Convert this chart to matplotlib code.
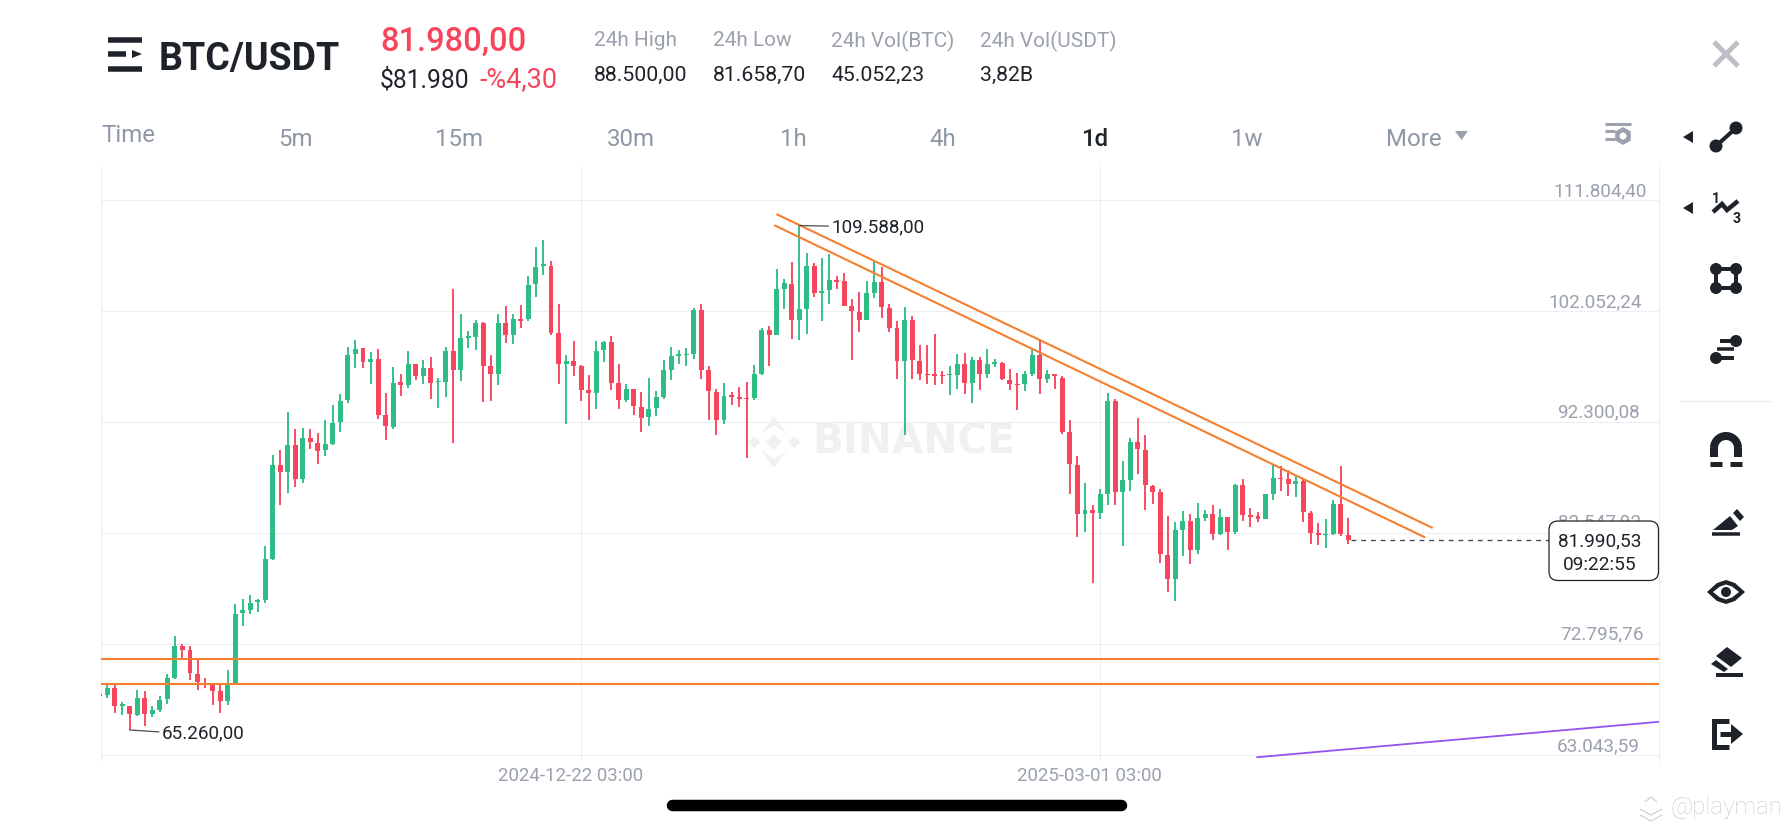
import numpy as np
import matplotlib
matplotlib.use("Agg")
import matplotlib.pyplot as plt
from matplotlib import patches, transforms
from matplotlib.lines import Line2D

plt.rcParams['font.family'] = ['Roboto', 'DejaVu Sans']

opens = [68.40,68.31,68.95,67.40,67.37,66.55,68.10,66.67,67.05,67.96,69.86,72.64,72.26,70.21,69.39,69.27,68.69,67.81,69.33,75.57,75.78,76.51,76.66,80.32,
88.57,87.93,90.27,87.28,90.95,90.51,89.83,90.42,92.29,94.23,98.27,98.83,97.60,97.83,92.91,91.88,95.81,95.60,97.39,96.34,97.10,95.81,95.81,98.53,96.92,99.71,99.80,101.06,97.22,96.57,101.06,99.94,101.35,101.38,104.42,106.07,106.04,100.12,97.42,97.72,97.25,95.11,94.87,
98.61,99.35,95.71,94.22,95.19,93.63,92.72,93.52,94.51,96.91,98.15,98.17,98.29,102.19,96.86,94.98,92.52,94.69,94.51,94.45,94.45,96.50,100.43,99.93,104.01,104.47,101.25,102.22,106.06,103.68,103.89,104.83,104.68,102.54,101.98,101.28,103.68,104.62,102.36,100.58,97.65,101.25,97.68,96.56,96.50,96.45,96.42,96.42,97.38,95.71,97.79,96.56,97.44,97.50,96.04,95.68,95.63,96.56,98.23,96.09,96.50,96.18,
91.44,88.57,84.21,84.62,84.32,86.02,94.17,86.17,87.20,90.54,89.83,86.73,86.20,80.66,78.55,82.86,83.59,81.07,83.91,84.27,82.45,83.94,82.65,86.76,84.18,84.03,83.80,86.02,87.40,87.28,86.87,87.17,84.35,82.54,82.36,82.45,85.09,82.42]
highs = [68.46,69.27,69.42,67.75,67.37,68.75,68.66,67.34,68.22,70.15,73.52,72.85,72.61,71.44,69.80,69.39,69.39,70.51,76.31,76.75,77.13,76.80,81.40,89.45,
89.89,93.20,91.68,91.80,91.71,91.39,92.53,93.85,94.76,98.92,99.50,98.83,98.48,98.77,94.90,97.16,96.51,98.56,97.39,97.74,98.07,96.22,98.92,104.04,101.82,100.35,101.26,101.14,98.18,101.82,102.49,101.82,102.58,105.19,107.74,108.29,106.45,102.73,98.18,99.47,97.36,96.48,99.41,
99.46,99.87,97.44,95.63,95.25,94.95,96.18,95.07,97.76,98.91,98.67,98.79,102.36,102.66,97.21,95.25,95.74,94.95,95.39,95.83,97.30,100.61,100.78,105.79,104.91,106.35,109.588,107.14,106.32,106.76,107.05,105.18,105.44,103.16,103.74,104.68,106.38,105.94,102.66,101.19,102.42,101.60,99.05,99.05,100.08,96.80,97.24,98.26,98.41,98.03,98.03,98.76,97.88,97.59,96.94,96.62,96.80,98.61,99.49,96.91,96.56,96.36,
92.47,89.34,86.99,85.00,86.46,94.90,94.34,88.87,90.92,92.70,91.21,86.81,86.40,84.03,83.53,84.47,84.26,85.23,84.62,85.06,84.67,83.94,86.90,87.34,84.79,84.41,86.02,88.51,88.43,88.13,87.58,87.34,84.50,83.47,83.83,85.50,88.43,83.88]
lows = [68.16,68.07,66.78,66.55,65.26,66.46,65.58,66.40,66.87,67.58,69.71,71.44,69.63,68.81,68.95,67.43,66.78,67.43,69.27,74.37,75.49,75.63,76.42,80.17,
85.00,86.08,86.61,86.99,89.98,88.66,89.31,90.33,91.44,94.00,97.07,97.07,95.69,92.56,90.71,91.74,94.58,95.31,96.04,95.63,94.32,93.55,94.52,90.48,95.93,98.83,98.62,94.11,94.20,95.60,99.27,99.15,100.56,101.20,103.31,105.27,99.97,95.66,92.18,96.34,94.20,92.47,93.50,
97.59,95.16,93.43,94.07,92.96,91.46,91.96,92.84,94.31,96.04,97.44,97.24,97.85,96.12,92.46,91.14,92.17,93.78,93.63,89.18,94.28,96.45,97.27,99.93,102.22,99.61,99.49,100.08,103.30,101.19,102.72,104.03,102.48,97.73,100.20,101.28,103.21,101.49,100.23,96.07,91.14,96.07,96.04,95.63,95.54,95.63,94.66,95.19,94.80,94.01,95.16,96.18,97.15,95.98,95.10,93.34,95.01,96.36,94.80,95.74,95.19,91.29,
86.02,82.21,82.65,78.20,83.77,85.00,85.06,81.45,86.26,87.78,84.62,85.14,79.96,77.38,76.56,80.54,79.87,80.75,83.59,81.92,82.42,81.04,82.48,83.62,83.09,83.53,83.80,85.44,86.26,85.82,85.73,83.53,81.63,81.54,81.25,82.42,82.27,81.63]
closes = [68.22,68.95,67.34,67.52,66.64,68.10,66.64,66.99,67.93,69.86,72.64,72.32,70.27,69.48,69.30,68.72,67.81,69.33,75.49,75.78,76.45,76.60,80.32,88.57,
87.93,90.27,87.28,90.95,90.54,89.77,90.36,92.26,94.20,98.24,98.77,97.63,97.83,92.94,91.94,95.78,95.60,97.39,96.34,97.10,95.78,95.96,98.53,96.92,99.68,99.85,101.03,97.25,96.57,101.06,99.97,101.35,101.23,104.37,105.98,106.18,100.15,97.42,97.72,97.25,95.14,94.87,98.59,
99.35,95.74,94.22,95.19,93.69,92.69,93.49,94.51,96.91,98.09,98.29,98.32,102.16,96.91,95.01,92.52,94.63,94.51,94.37,94.31,96.50,100.43,99.93,103.98,104.50,101.25,102.22,106.06,103.65,103.80,104.77,104.62,102.54,102.07,101.28,103.65,104.62,102.39,100.58,97.65,101.25,97.73,96.56,96.42,96.36,96.33,96.56,97.38,95.71,97.79,96.56,97.41,97.59,96.07,95.68,95.57,96.53,98.23,96.12,96.50,96.36,91.44,
88.66,84.21,84.62,84.32,85.96,94.17,86.17,87.20,90.54,89.92,86.76,86.17,80.69,78.55,82.86,83.59,81.07,83.91,84.27,82.51,83.94,82.68,86.76,84.18,83.97,83.77,86.02,87.40,87.28,86.87,87.17,84.38,82.60,82.39,82.48,85.09,82.45,81.92]

price_ticks = [111804.40, 102052.24, 92300.08, 82547.92, 72795.76, 63043.59]
price_labels = ['111.804,40', '102.052,24', '92.300,08', '82.547,92', '72.795,76', '63.043,59']
date_ticks = [64, 133]
date_labels = ['2024-12-22 03:00', '2025-03-01 03:00']
support_levels = [71540, 69340]
trend_upper = ([90.1, 177.1], [110550, 83050])
trend_lower = ([89.8, 176.1], [109580, 82220])
purple_line = ([153.9, 207.3], [62870, 65980])
last_price = 81990.53
high_idx, high_val, high_label = 93, 109588.0, '109.588,00'
low_idx, low_val, low_label = 4, 65260.0, '65.260,00'

GREEN, RED = '#2ebd85', '#f6465d'
DARK, GRAY = '#1e2329', '#9aa1ad'
ORANGE, PURPLE = '#f57f2e', '#9452ee'
GRID = '#eceef1'

W, H = 1792, 828
fig = plt.figure(figsize=(W/100, H/100), dpi=100, facecolor='white')
px = transforms.Affine2D().scale(1/W, -1/H).translate(0, 1) + fig.transFigure
L, R, T_, B = 100.5, 1658.5, 167.3, 762.3
ax = fig.add_axes([L/W, 1-B/H, (R-L)/W, (B-T_)/H])
ax.set_xlim(0.1, 207.25)
ax.set_ylim(62510, 114790)

o, h, l, c = [np.array(a)*1000 for a in (opens, highs, lows, closes)]
x = np.arange(len(o))
cols = [GREEN if ci >= oi else RED for oi, ci in zip(o, c)]
ax.vlines(x, l, h, colors=cols, linewidth=1.35, zorder=3)
hgt = np.maximum(np.abs(c-o), 130)
ax.bar(x, hgt, bottom=np.minimum(o, c), width=0.66, color=cols, linewidth=0, zorder=3)

ax.set_yticks(price_ticks, price_labels)
ax.set_xticks(date_ticks, date_labels)
ax.grid(True, color=GRID, linewidth=0.75, zorder=0)
ax.set_axisbelow(True)
for k, s in ax.spines.items():
    s.set_visible(k in ('left', 'right'))
    s.set_color(GRID)
    s.set_linewidth(0.75)
ax.tick_params(axis='both', length=0)
ax.tick_params(axis='y', labelleft=False, labelright=True, labelcolor=GRAY, labelsize=13.6, pad=0)
ax.tick_params(axis='x', labelcolor=GRAY, labelsize=13.4, pad=0)
fig.canvas.draw()
label_cx = [1600, 1595, 1598, 1600, 1602, 1598]
label_cy = [191.5, 302, 412.5, 522.5, 634.5, 746]
for t, cx, cy, v in zip(ax.yaxis.get_major_ticks(), label_cx, label_cy, price_ticks):
    lab = t.label2
    lab.set_ha('center'); lab.set_va('center')
    lab.set_transform(ax.get_yaxis_transform() + transforms.ScaledTranslation(
        (cx-R)/100, -(cy-(756.2-(v-63043.59)/87.86))/100, fig.dpi_scale_trans))
for t, cx in zip(ax.xaxis.get_major_ticks(), [571, 1089]):
    lab = t.label1
    lab.set_ha('center'); lab.set_va('center')
    lab.set_transform(ax.get_xaxis_transform() + transforms.ScaledTranslation(
        (cx-(99.85+7.52*t.get_loc()))/100, -(776-B)/100, fig.dpi_scale_trans))

for lv in support_levels:
    ax.axhline(lv, color=ORANGE, linewidth=1.5, zorder=4)
ax.plot(*trend_upper, color=ORANGE, linewidth=1.5, zorder=4)
ax.plot(*trend_lower, color=ORANGE, linewidth=1.5, zorder=4)
ax.plot(*purple_line, color=PURPLE, linewidth=1.3, zorder=4)
ax.plot([166.4, 207.25], [last_price, last_price], color='#474d57', linewidth=1.0,
        dashes=(3.5, 3.5), zorder=4)

for idx, val, lab, dx, dy in [(high_idx, high_val, high_label, 23, -0.5),
                              (low_idx, low_val, low_label, 23, -1.5)]:
    ax.annotate(lab, xy=(idx, val), xytext=(dx, dy), textcoords='offset points',
                ha='left', va='center', color=DARK, fontsize=13.6, zorder=6,
                arrowprops=dict(arrowstyle='-', color='#474d57', lw=0.9, shrinkA=0, shrinkB=0,
                                relpos=(0, 0.5)))

# watermark under candles
WM = '#eef0f2'
def wm_poly(pts):
    ax.add_patch(patches.Polygon(pts, closed=True, facecolor=WM, edgecolor='none',
                                 transform=px, zorder=1, clip_on=False))
cx0, cy0 = 774, 443
for dx, dy, r in [(0, 0, 8), (-20, 0, 6), (20, 0, 6)]:
    wm_poly([(cx0+dx-r, cy0+dy), (cx0+dx, cy0+dy-r), (cx0+dx+r, cy0+dy), (cx0+dx, cy0+dy+r)])
for s in (-1, 1):
    wm_poly([(cx0-14, cy0+s*6), (cx0, cy0+s*26), (cx0+14, cy0+s*6), (cx0+9, cy0+s*11), (cx0, cy0+s*17), (cx0-9, cy0+s*11)])
ax.text(812, 443, 'BINANCE', transform=px, color=WM, fontsize=29.2, fontweight='bold',
        family='DejaVu Sans', ha='left', va='center', zorder=1, clip_on=False)

# header and tabs
def T(xp, yp, s, size, color=DARK, ha='left', weight='normal', z=6):
    fig.text(xp, yp+2, s, transform=px, fontsize=size*0.72, color=color, ha=ha, va='center',
             fontweight=weight, zorder=z)
def poly(pts, color=DARK, z=6):
    fig.add_artist(patches.Polygon(pts, closed=True, facecolor=color, edgecolor='none', transform=px, zorder=z))
def line(xs, ys, w, color=DARK, cap='butt', z=6):
    fig.add_artist(Line2D(xs, ys, color=color, linewidth=w*0.72, solid_capstyle=cap,
                          solid_joinstyle='miter', transform=px, zorder=z))
def circ(xc, yc, r, color=DARK, z=6):
    fig.add_artist(patches.Circle((xc, yc), r, facecolor=color, edgecolor='none', transform=px, zorder=z))

T(159, 57, 'BTC/USDT', 37.5, weight='bold')
line([108, 142], [40.5, 40.5], 5.5)
line([108, 126], [55, 55], 5.5)
poly([(132, 51), (142, 55), (132, 59)])
line([108, 142], [69.5, 69.5], 5.5)
T(380, 40, '81.980,00', 32.6, color=RED, weight='medium')
T(380, 78, '$81.980', 24.6)
T(479, 78, '-%4,30', 27, color=RED)
for xp, a, b in [(594, '24h High', '88.500,00'), (713, '24h Low', '81.658,70'),
                 (831, '24h Vol(BTC)', '45.052,23'), (980, '24h Vol(USDT)', '3,82B')]:
    T(xp, 39, a, 20.9, color=GRAY)
    T(xp, 73, b, 21.3)
for xp, s in [(128, 'Time'), (295, '5m'), (459, '15m'), (631, '30m'), (793, '1h'), (943, '4h'),
              (1247, '1w'), (1414, 'More')]:
    T(xp, 134 if s == 'Time' else 137, s, 24, color='#8e97a5', ha='center')
T(1095, 137, '1d', 24, ha='center', weight='medium')
poly([(1455, 132), (1468, 132), (1461.5, 141)], color=GRAY)
# settings icon
line([1605, 1631], [124.5, 124.5], 3, color=GRAY)
line([1605, 1615], [132, 132], 3, color=GRAY)
line([1605, 1615], [140, 140], 3, color=GRAY)
poly([(1623+9*np.cos(a), 137+9*np.sin(a)) for a in np.radians(np.arange(30, 390, 60))], color=GRAY)
circ(1623, 137, 3.5, 'white')
# close
line([1714, 1738], [43, 67], 5, color='#bcc0c6')
line([1714, 1738], [67, 43], 5, color='#bcc0c6')
# toolbar
for yt in (138, 209):
    poly([(1683, yt), (1693, yt-6), (1693, yt+6)])
line([1716, 1736], [147, 129], 4); circ(1736, 129, 6.5); circ(1716, 147, 6.5)
line([1713, 1722, 1727, 1738], [213, 205, 211, 202], 4.5)
T(1716, 197, '1', 14, ha='center', weight='bold')
T(1737, 217, '3', 14, ha='center', weight='bold')
line([1716, 1736, 1736, 1716, 1716], [270, 270, 289, 289, 269], 4)
for a, b in [(1716, 270), (1736, 270), (1716, 289), (1736, 289)]:
    circ(a, b, 6)
line([1720, 1736], [342, 342], 4); circ(1736, 342, 6)
line([1717, 1734], [350, 350], 3.5)
line([1716, 1734], [359, 359], 4); circ(1716, 359, 6)
line([1680, 1772], [402, 402], 1.3, color='#eaecef')
th = np.radians(np.linspace(180, 360, 40))
line(1726+12*np.cos(th), 449+12*np.sin(th), 8)
line([1714, 1714], [449, 458], 8); line([1738, 1738], [449, 458], 8)
line([1710, 1722], [465, 465], 5); line([1730, 1742], [465, 465], 5)
poly([(1713, 531), (1730, 517), (1738, 527), (1732, 531)])
poly([(1733, 514), (1737, 510), (1744, 518), (1740, 522)])
line([1712, 1740], [534.5, 534.5], 3.5)
poly([(1707, 593), (1717, 584), (1726, 581), (1735, 584), (1745, 593), (1735, 602), (1726, 605), (1717, 602)])
poly([(1713, 593), (1720, 587.5), (1726, 585.5), (1732, 587.5), (1739, 593), (1732, 598.5), (1726, 600.5), (1720, 598.5)], color='white')
circ(1726, 593, 5)
poly([(1727, 648), (1742, 659), (1731, 668), (1716, 657)])
poly([(1711, 665), (1716, 661), (1728, 670), (1724, 673)])
line([1716, 1743], [675.5, 675.5], 4)
line([1729, 1713.5, 1713.5, 1729], [721.5, 721.5, 747.5, 747.5], 5)
line([1720, 1732], [735, 735], 5)
poly([(1731, 725), (1743, 735), (1731, 745)])

# price box
fig.add_artist(patches.FancyBboxPatch((1549, 522), 109.5, 59.5, boxstyle='round,pad=0,rounding_size=9',
               facecolor='white', edgecolor=DARK, linewidth=0.9, transform=px, zorder=5))
T(1600, 539.5, '81.990,53', 19, ha='center')
T(1600, 563.5, '09:22:55', 19, ha='center')

# home bar and credit
line([672, 1121], [806, 806], 11.5, color='black', cap='round')
T(1670, 806, '@playman', 24, color='#cfcfcf', weight='light')
for dy in (0, 6, 12):
    line([1640, 1651, 1662] if dy else [1645, 1651, 1657], [804+dy, 810+dy, 804+dy] if dy else [803, 798, 803], 1.2, color='#cfcfcf')

fig.savefig('out.png', dpi=100)
